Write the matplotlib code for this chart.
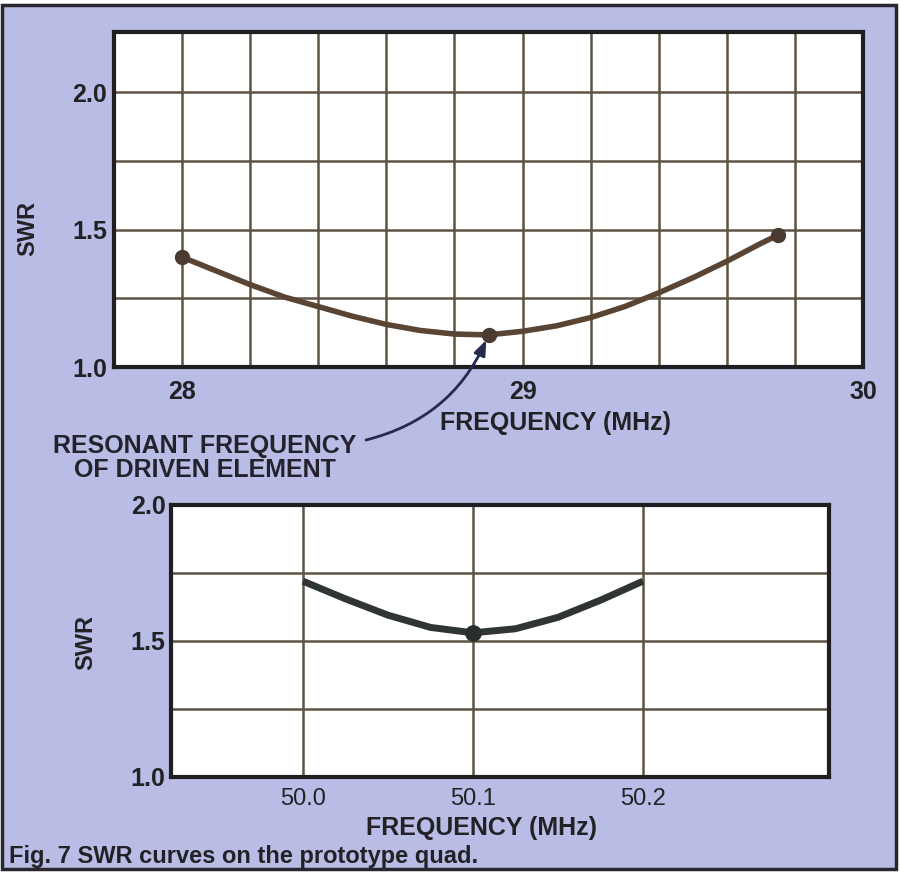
import matplotlib
matplotlib.use("Agg")
import matplotlib.pyplot as plt
from matplotlib.patches import Rectangle

# --- data ---
# 10 m band (28-30 MHz)
freq_10m = [28.0, 28.1, 28.2, 28.3, 28.4, 28.5, 28.6, 28.7, 28.8, 28.9,
            29.0, 29.1, 29.2, 29.3, 29.4, 29.5, 29.6, 29.7, 29.75]
swr_10m = [1.40, 1.35, 1.30, 1.255, 1.22, 1.185, 1.155, 1.133, 1.12, 1.117,
           1.13, 1.15, 1.18, 1.22, 1.27, 1.325, 1.385, 1.45, 1.48]
meas_freq_10m = [28.0, 28.9, 29.75]
meas_swr_10m = [1.40, 1.117, 1.48]
resonant_freq = 28.9
resonant_swr = 1.117

# 6 m band (50 MHz)
freq_6m = [50.0, 50.025, 50.05, 50.075, 50.1, 50.125, 50.15, 50.175, 50.2]
swr_6m = [1.72, 1.655, 1.595, 1.55, 1.53, 1.545, 1.587, 1.65, 1.72]
meas_freq_6m = [50.1]
meas_swr_6m = [1.53]

xticks_10m = [28, 29, 30]
xticks_6m = [50.0, 50.1, 50.2]
yticks = [1.0, 1.5, 2.0]

BG = "#b9bde6"
GRID = "#5f5443"
INK = "#222226"
FONT = ["Liberation Sans", "DejaVu Sans"]

fig = plt.figure(figsize=(9.01, 8.75), dpi=100)
fig.patch.set_facecolor("white")
W, H = 901.0, 875.0

# lavender page panel with dark frame (behind the axes)
fig.patches.append(Rectangle((1.5 / W, 6 / H), 894 / W, 864 / H,
                             transform=fig.transFigure, facecolor=BG,
                             edgecolor="#2a2630", lw=2.5, zorder=-5))


def style_axes(ax):
    ax.set_facecolor("white")
    for sp in ax.spines.values():
        sp.set_linewidth(3)
        sp.set_color("#1f1f22")
    ax.set_axisbelow(True)


# ---- top chart: 28-30 MHz ----
ax1 = fig.add_axes([114 / W, 1 - 367 / H, 749 / W, 335 / H])
style_axes(ax1)
ax1.set_xlim(27.8, 30.0)
ax1.set_ylim(1.0, 2.22)
ax1.set_xticks([28.0 + 0.2 * i for i in range(10)], minor=True)
ax1.set_yticks([1.25, 1.75], minor=True)
ax1.set_xticks(xticks_10m)
ax1.set_xticklabels([str(t) for t in xticks_10m], family=FONT,
                    fontsize=18, fontweight="bold", color=INK)
ax1.set_yticks(yticks)
ax1.set_yticklabels(["%.1f" % t for t in yticks], family=FONT,
                    fontsize=18, fontweight="bold", color=INK)
ax1.grid(True, which="both", color=GRID, lw=1.8)
ax1.tick_params(axis="x", which="both", length=0, pad=9)
ax1.tick_params(axis="y", which="both", length=0, pad=5)
ax1.plot(freq_10m, swr_10m, color="#5a4434", lw=4, solid_capstyle="round",
         solid_joinstyle="round", zorder=3)
ax1.plot(meas_freq_10m, meas_swr_10m, "o", color="#4a3a30", ms=10, zorder=4)

fig.text(556 / W, 1 - 423 / H, "FREQUENCY (MHz)", ha="center", va="center",
         family=FONT, fontsize=18, fontweight="bold", color=INK)
fig.text(28 / W, 1 - 228 / H, "SWR", rotation=90, ha="center", va="center",
         family=FONT, fontsize=17, fontweight="bold", color=INK)

# annotation for resonant frequency
fig.text(205 / W, 1 - 458 / H, "RESONANT FREQUENCY\nOF DRIVEN ELEMENT",
         ha="center", va="center", multialignment="center", family=FONT,
         fontsize=18, fontweight="bold", color="#24222c", linespacing=0.95)
ax1.annotate("", xy=(resonant_freq, resonant_swr),
             xytext=(366, H - 440), textcoords="figure pixels",
             arrowprops=dict(arrowstyle="-|>,head_length=0.9,head_width=0.35",
                             connectionstyle="arc3,rad=0.25",
                             color="#262a4e", lw=2, shrinkA=0, shrinkB=4),
             annotation_clip=False, zorder=5)

# ---- bottom chart: 50 MHz ----
ax2 = fig.add_axes([171 / W, 1 - 777 / H, 658 / W, 272 / H])
style_axes(ax2)
ax2.set_xlim(49.9224, 50.3094)
ax2.set_ylim(1.0, 2.0)
ax2.set_xticks(xticks_6m)
ax2.set_xticklabels(["%.1f" % t for t in xticks_6m], family=FONT,
                    fontsize=17, color=INK)
ax2.set_yticks(yticks)
ax2.set_yticklabels(["%.1f" % t for t in yticks], family=FONT,
                    fontsize=18, fontweight="bold", color=INK)
ax2.set_yticks([1.25, 1.75], minor=True)
ax2.grid(True, which="both", color=GRID, lw=1.8)
ax2.tick_params(axis="x", which="both", length=0, pad=8)
ax2.tick_params(axis="y", which="both", length=0, pad=4)
ax2.plot(freq_6m, swr_6m, color="#2f3532", lw=5, solid_capstyle="butt",
         solid_joinstyle="round", zorder=3)
ax2.plot(meas_freq_6m, meas_swr_6m, "o", color="#2a2e2c", ms=11, zorder=4)

fig.text(482 / W, 1 - 828 / H, "FREQUENCY (MHz)", ha="center", va="center",
         family=FONT, fontsize=18, fontweight="bold", color=INK)
fig.text(86 / W, 1 - 642 / H, "SWR", rotation=90, ha="center", va="center",
         family=FONT, fontsize=17, fontweight="bold", color=INK)

# caption
fig.text(9 / W, 1 - 857 / H, "Fig. 7 SWR curves on the prototype quad.",
         ha="left", va="center", family=FONT, fontsize=17,
         fontweight="bold", color=INK)

fig.savefig("out.png", dpi=100, facecolor=fig.get_facecolor())
